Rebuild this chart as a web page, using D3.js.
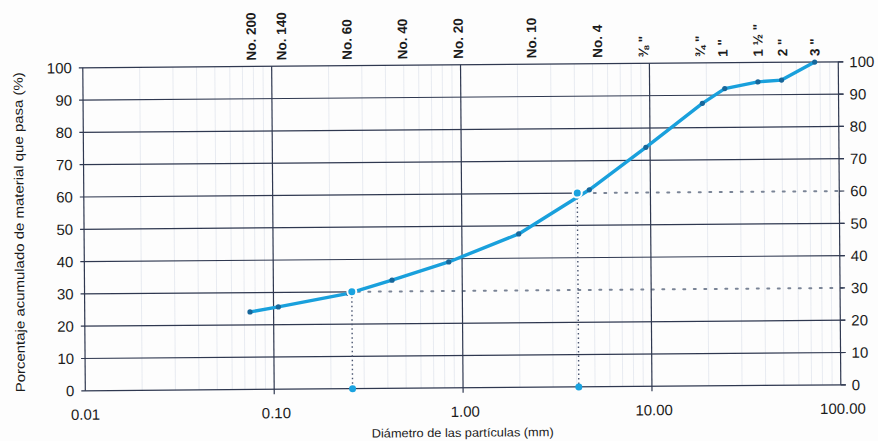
<!DOCTYPE html>
<html>
<head>
<meta charset="utf-8">
<script src="https://cdn.jsdelivr.net/npm/d3@7"></script>
<style>
  html, body { margin: 0; padding: 0; background: #fdfdfd; }
  svg { display: block; font-family: "Liberation Sans", Arial, sans-serif; }
</style>
</head>
<body>
<svg id="chart" width="878" height="441"></svg>
<script>
// Sieve analysis: cumulative percent passing vs. particle diameter
const sieveLabels = ["No. 200", "No. 140", "No. 60", "No. 40", "No. 20", "No. 10", "No. 4",
                     "\u215C \"", "\u00BE \"", "1 \"", "1 \u00BD \"", "2 \"", "3 \""];
const sieveSizes = [0.075, 0.106, 0.25, 0.425, 0.85, 2.0, 4.75, 9.5, 19.0, 25.0, 37.5, 50.0, 75.0];
const percentPassing = [24, 25.5, 29.5, 33.5, 39, 47.5, 61, 74, 87.5, 92, 94, 94.5, 100];

// Characteristic diameters (D30, D60)
const charPercent = [30, 60];
const charDiameter = [0.26, 4.1];

// Axis ticks
const xTicks = [0.01, 0.1, 1, 10, 100];
const xTickLabels = ["0.01", "0.10", "1.00", "10.00", "100.00"];
const yTicks = [0, 10, 20, 30, 40, 50, 60, 70, 80, 90, 100];

// sideways nudges (px) of the sieve captions
const labelNudge = [3, 5, 0, 12, 11, 14, 9, -2, -2, -2, 0, 1, 0];

const svg = d3.select("#chart");
const W = 878, H = 441;
const plotLeft = 84, plotRight = 839.5, plotTop = 65, plotBottom = 388;

const x = d3.scaleLog().domain([0.01, 100]).range([plotLeft, plotRight]);
const y = d3.scaleLinear().domain([0, 100]).range([plotBottom, plotTop]);

const gridColor = "#2f3850";
const curveColor = "#19a0dc";

// whole sheet is drawn slightly tilted
const g = svg.append("g").attr("transform", `rotate(-0.45, ${W / 2}, ${H / 2})`);

// minor vertical gridlines (2..9 per decade)
const minor = [];
[0.01, 0.1, 1, 10].forEach(d => { for (let k = 2; k <= 9; k++) minor.push(d * k); });
g.append("g").selectAll("line").data(minor).join("line")
  .attr("x1", d => x(d)).attr("x2", d => x(d))
  .attr("y1", y(0)).attr("y2", y(100))
  .attr("stroke", "#e2e6ee").attr("stroke-width", 0.8);

// horizontal gridlines; the 30 and 60 lines turn dotted past D30 / D60
const charX = { 30: x(charDiameter[0]), 60: x(charDiameter[1]) };
g.append("g").selectAll("line").data(yTicks).join("line")
  .attr("x1", plotLeft - 4)
  .attr("x2", d => charX[d] !== undefined ? charX[d] : plotRight + 5)
  .attr("y1", d => y(d)).attr("y2", d => y(d))
  .attr("stroke", gridColor).attr("stroke-width", 1.2);

g.append("g").selectAll("line").data(charPercent).join("line")
  .attr("x1", (d, i) => x(charDiameter[i]) + 6).attr("x2", plotRight + 5)
  .attr("y1", d => y(d)).attr("y2", d => y(d))
  .attr("stroke", "#7a8496").attr("stroke-width", 2)
  .attr("stroke-dasharray", "2,8.5").attr("stroke-linecap", "round");

// major vertical gridlines and frame
g.append("g").selectAll("line").data(xTicks).join("line")
  .attr("x1", d => x(d)).attr("x2", d => x(d))
  .attr("y1", y(100)).attr("y2", d => (d === 0.01 || d === 100) ? y(0) : y(0) + 5)
  .attr("stroke", gridColor).attr("stroke-width", 1.2);

// dotted drop lines from D30 / D60
g.append("g").selectAll("line").data(charPercent).join("line")
  .attr("x1", (d, i) => x(charDiameter[i])).attr("x2", (d, i) => x(charDiameter[i]))
  .attr("y1", d => y(d) + 5).attr("y2", y(0))
  .attr("stroke", "#4a5570").attr("stroke-width", 1.4)
  .attr("stroke-dasharray", "1.5,3");

// grading curve
const pts = sieveSizes.map((s, i) => [s, percentPassing[i]]);
g.append("path").datum(pts)
  .attr("d", d3.line().x(d => x(d[0])).y(d => y(d[1])))
  .attr("fill", "none").attr("stroke", curveColor).attr("stroke-width", 3.4)
  .attr("stroke-linejoin", "round");

// sieve point markers
g.append("g").selectAll("circle").data(pts).join("circle")
  .attr("cx", d => x(d[0])).attr("cy", d => y(d[1]))
  .attr("r", 2.6)
  .attr("fill", "#17679b");

// D30 / D60 markers on the curve and on the base line
g.append("g").selectAll("circle").data(charPercent).join("circle")
  .attr("cx", (d, i) => x(charDiameter[i])).attr("cy", d => y(d))
  .attr("r", 4.5).attr("fill", "#1aa3e0")
  .attr("stroke", "#fdfdfd").attr("stroke-width", 2);
g.append("g").selectAll("circle").data(charPercent).join("circle")
  .attr("cx", (d, i) => x(charDiameter[i])).attr("cy", y(0))
  .attr("r", 3.5).attr("fill", "#1aa3e0");

// right-hand tick marks
g.append("g").selectAll("line").data(yTicks).join("line")
  .attr("x1", plotRight).attr("x2", plotRight + 5)
  .attr("y1", d => y(d)).attr("y2", d => y(d))
  .attr("stroke", gridColor).attr("stroke-width", 1.2);

const textColor = "#1b1b1b";

// left tick labels
g.append("g").selectAll("text").data(yTicks).join("text")
  .attr("x", plotLeft - 11).attr("y", d => y(d)).attr("dy", "0.36em")
  .attr("text-anchor", "end").attr("font-size", 15).attr("fill", textColor)
  .text(d => d);

// right tick labels
g.append("g").selectAll("text").data(yTicks).join("text")
  .attr("x", plotRight + 11).attr("y", d => y(d)).attr("dy", "0.36em")
  .attr("text-anchor", "start").attr("font-size", 15).attr("fill", textColor)
  .text(d => d);

// bottom tick labels
g.append("g").selectAll("text").data(xTicks).join("text")
  .attr("x", d => x(d) + (d === 0.01 ? 0 : 2)).attr("y", plotBottom + 29)
  .attr("text-anchor", "middle").attr("font-size", 15).attr("fill", textColor)
  .text((d, i) => xTickLabels[i]);

// sieve captions along the top
g.append("g").selectAll("text").data(sieveSizes).join("text")
  .attr("transform", (d, i) => `translate(${x(d) + labelNudge[i]},${plotTop - 6}) rotate(-90)`)
  .attr("dy", "0.36em")
  .attr("text-anchor", "start").attr("font-size", 13.5).attr("font-weight", "bold")
  .attr("fill", textColor)
  .text((d, i) => sieveLabels[i]);

// axis titles
g.append("text")
  .attr("x", 461).attr("y", 437)
  .attr("text-anchor", "middle").attr("font-size", 12).attr("fill", textColor)
  .attr("textLength", 182).attr("lengthAdjust", "spacingAndGlyphs")
  .text("Diámetro de las partículas (mm)");

g.append("text")
  .attr("transform", `translate(19,229) rotate(-90)`)
  .attr("dy", "0.36em")
  .attr("text-anchor", "middle").attr("font-size", 13).attr("fill", textColor)
  .attr("textLength", 320).attr("lengthAdjust", "spacingAndGlyphs")
  .text("Porcentaje acumulado de material que pasa (%)");
</script>
</body>
</html>
